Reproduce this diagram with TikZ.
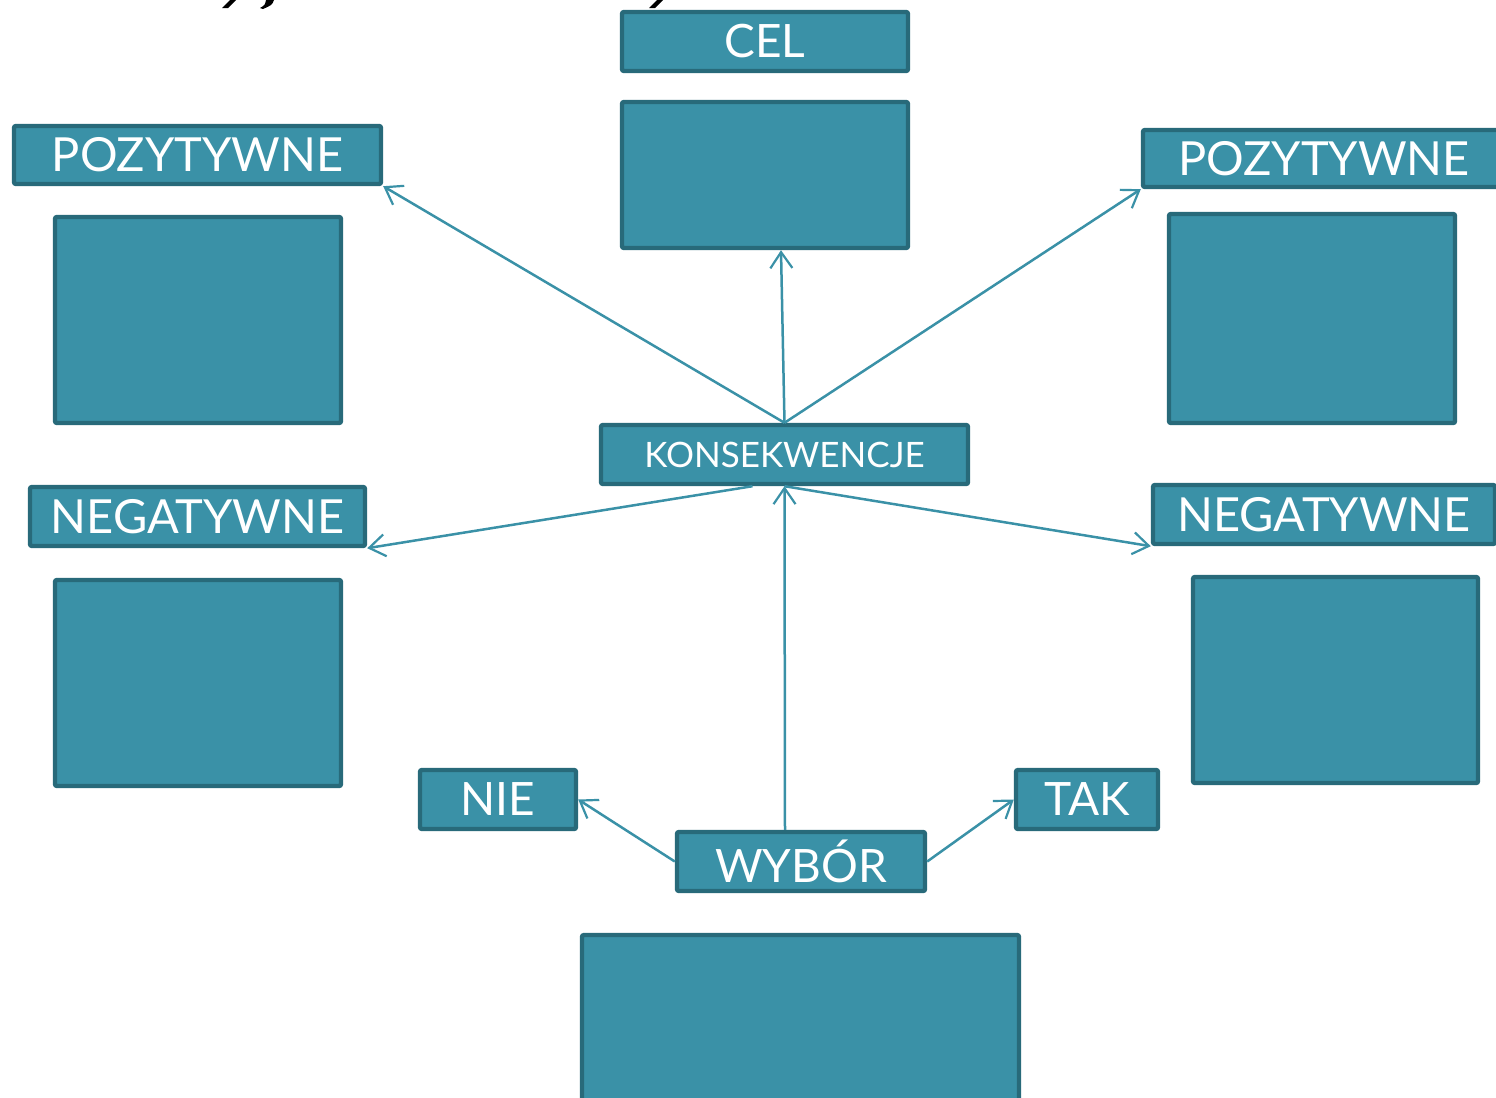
\documentclass[tikz,border=0pt]{standalone}
\usepackage{fontspec}
\setmainfont{Lato}
\usetikzlibrary{arrows.meta}
\definecolor{boxfill}{RGB}{58,145,167}
\definecolor{boxdraw}{RGB}{40,106,122}
\definecolor{linec}{RGB}{58,145,167}
\begin{document}
\begin{tikzpicture}[x=0.5pt,y=-0.5pt,
  box/.style={draw=boxdraw, fill=boxfill, line width=2.2pt, rounded corners=1pt,
    text=white, inner sep=0pt, anchor=center},
  conn/.style={draw=linec, line width=1.25pt, -{Straight Barb[length=8pt,width=11pt,line width=1.1pt]}},
  big/.style={font=\fontsize{23.5}{25}\selectfont},
  mid/.style={font=\fontsize{23}{25}\selectfont},
  small/.style={font=\fontsize{17.5}{20}\selectfont}]
\useasboundingbox (0,0) rectangle (1496,1098);
\clip (0,0) rectangle (1496,1098);
% cut-off title fragments
\fill[black] (230,0) -- (236,0) -- (228,8) -- (222,8) -- cycle;
\fill[black] (266,0) -- (274,0) .. controls (272,5) .. (263,9) -- (260,8) .. controls (265,5) .. cycle;
\fill[black] (657,0) -- (663,0) -- (655,8) -- (649,8) -- cycle;
% nodes
\node[box, mid, minimum width=143pt, minimum height=29.5pt] (cel) at (765,41.5) {CEL};
\node[box, minimum width=143pt, minimum height=73pt] (celbox) at (765,175) {};
\node[box, big, minimum width=183.5pt, minimum height=29pt] (pozL) at (197.5,155) {POZYTYWNE};
\node[box, minimum width=143pt, minimum height=103pt] (pozLbox) at (198,320) {};
\node[box, big, minimum width=181pt, minimum height=28.5pt] (pozR) at (1324,158.5) {POZYTYWNE};
\node[box, minimum width=143pt, minimum height=104.5pt] (pozRbox) at (1312,318.5) {};
\node[box, small, minimum width=183.5pt, minimum height=29.5pt] (kons) at (784.5,454.5) {KONSEKWENCJE};
\node[box, big, minimum width=167.5pt, minimum height=29.5pt] (negL) at (197.5,516.5) {NEGATYWNE};
\node[box, minimum width=143pt, minimum height=103pt] (negLbox) at (198,683) {};
\node[box, big, minimum width=171pt, minimum height=29.5pt] (negR) at (1324,514.5) {NEGATYWNE};
\node[box, minimum width=142.5pt, minimum height=103pt] (negRbox) at (1335.5,680) {};
\node[box, mid, minimum width=78pt, minimum height=29.5pt] (nie) at (498,799.5) {NIE};
\node[box, mid, minimum width=71pt, minimum height=29.5pt] (tak) at (1087,799.5) {TAK};
\node[box, mid, minimum width=124pt, minimum height=29.5pt] (wybor) at (801,861.5) {WYBÓR};
\node[box, minimum width=218.5pt, minimum height=86.5pt] (wyborbox) at (800.5,1021.5) {};
% connectors
\draw[conn] (kons.north) -- (pozL.south east);
\draw[conn] (kons.north) -- ([xshift=8pt]celbox.south);
\draw[conn] (kons.north) -- (pozR.south west);
\draw[conn] ([xshift=-16pt]kons.south) -- (negL.south east);
\draw[conn] (kons.south) -- (negR.south west);
\draw[conn] ([xshift=-8pt]wybor.north) -- (kons.south);
\draw[conn] (wybor.west) -- (nie.east);
\draw[conn] (wybor.east) -- (tak.west);
\end{tikzpicture}
\end{document}
